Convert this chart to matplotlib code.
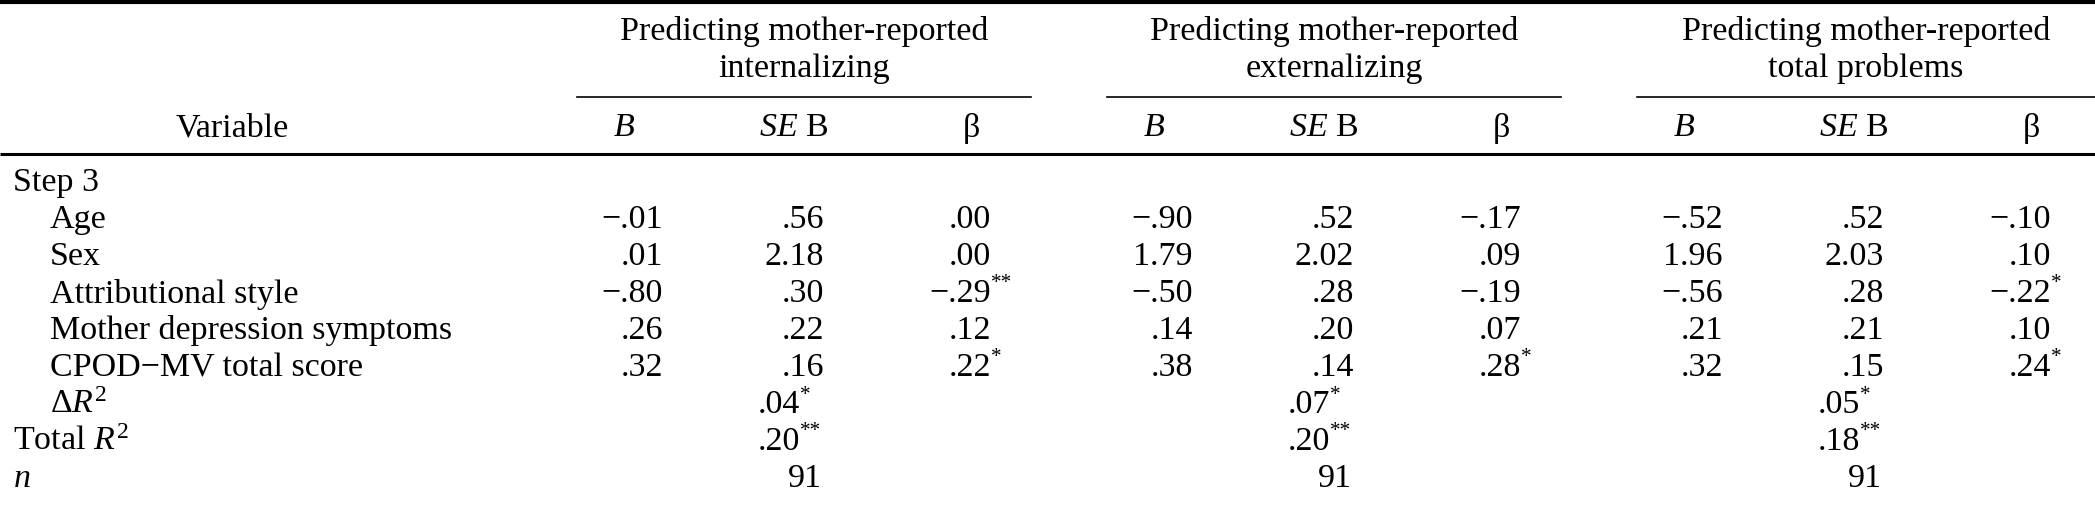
import matplotlib
matplotlib.use("Agg")
import matplotlib.pyplot as plt

plt.rcParams["font.family"] = "Liberation Serif"
plt.rcParams["mathtext.fontset"] = "custom"
plt.rcParams["mathtext.rm"] = "Liberation Serif"
plt.rcParams["mathtext.it"] = "Liberation Serif:italic"

GROUP_TITLES = ["Predicting mother-reported\ninternalizing",
                "Predicting mother-reported\nexternalizing",
                "Predicting mother-reported\ntotal problems"]
ROW_LABELS = ["Age", "Sex", "Attributional style", "Mother depression symptoms",
              "CPOD\u2212MV total score"]

# values per group: rows x (B, SE B, beta); stars kept separately
B_VALS = [["\u2212.01", ".01", "\u2212.80", ".26", ".32"],
          ["\u2212.90", "1.79", "\u2212.50", ".14", ".38"],
          ["\u2212.52", "1.96", "\u2212.56", ".21", ".32"]]
SE_VALS = [[".56", "2.18", ".30", ".22", ".16"],
           [".52", "2.02", ".28", ".20", ".14"],
           [".52", "2.03", ".28", ".21", ".15"]]
BETA_VALS = [[".00", ".00", "\u2212.29", ".12", ".22"],
             ["\u2212.17", ".09", "\u2212.19", ".07", ".28"],
             ["\u2212.10", ".10", "\u2212.22", ".10", ".24"]]
BETA_STARS = [["", "", "**", "", "*"],
              ["", "", "", "", "*"],
              ["", "", "*", "", "*"]]
DELTA_R2 = [(".04", "*"), (".07", "*"), (".05", "*")]
TOTAL_R2 = [(".20", "**"), (".20", "**"), (".18", "**")]
N_VALS = ["91", "91", "91"]

W, H = 2095, 511
FS = 24.5
fig = plt.figure(figsize=(W / 100, H / 100), dpi=100)
ax = fig.add_axes([0, 0, 1, 1])
ax.set_xlim(0, W)
ax.set_ylim(H, 0)
ax.axis("off")


def txt(x, y, s, ha="right", size=FS, **kw):
    ax.text(x, y, s, ha=ha, va="center", fontsize=size, **kw)


def star(x, y, s):
    if s:
        ax.text(x, y - 10, s, ha="left", va="center", fontsize=FS * 0.62)


# rules
ax.plot([0, W], [2, 2], color="black", lw=3, solid_capstyle="butt")
ax.plot([0, W], [154, 154], color="black", lw=2.2, solid_capstyle="butt")

GROUP_STEP = 530
rows_y = [183 + 37 * i for i in range(9)]

txt(232, 128, "Variable", ha="center")
txt(13, rows_y[0], "Step 3", ha="left")
for i, lab in enumerate(ROW_LABELS):
    txt(50, rows_y[i + 1], lab, ha="left")
txt(50, rows_y[6], r"$\Delta R^2$", ha="left")
txt(13, rows_y[7], r"Total $R^2$", ha="left")
txt(13, rows_y[8], r"$n$", ha="left")

for g in range(3):
    off = g * GROUP_STEP
    x0, x1 = 577 + off, min(1031 + off, W)
    if g == 2:
        x1 = W
    ax.plot([x0, x1], [97, 97], color="black", lw=1.2)
    ax.text((x0 + x1) / 2, 50, GROUP_TITLES[g], ha="center", va="center",
            fontsize=FS, linespacing=1.25)
    txt(624 + off, 128, r"$B$", ha="center")
    txt(794 + off, 128, r"$\mathit{SE}$ B", ha="center")
    txt(971 + off, 128, "\u03b2", ha="center")
    for i in range(5):
        y = rows_y[i + 1]
        txt(663 + off, y, B_VALS[g][i])
        txt(824 + off, y, SE_VALS[g][i])
        txt(991 + off, y, BETA_VALS[g][i])
        star(991 + off, y, BETA_STARS[g][i])
    v, s = DELTA_R2[g]
    txt(800 + off, rows_y[6], v)
    star(800 + off, rows_y[6], s)
    v, s = TOTAL_R2[g]
    txt(800 + off, rows_y[7], v)
    star(800 + off, rows_y[7], s)
    txt(822 + off, rows_y[8], N_VALS[g])

fig.savefig("out.png", dpi=100, facecolor="white")
